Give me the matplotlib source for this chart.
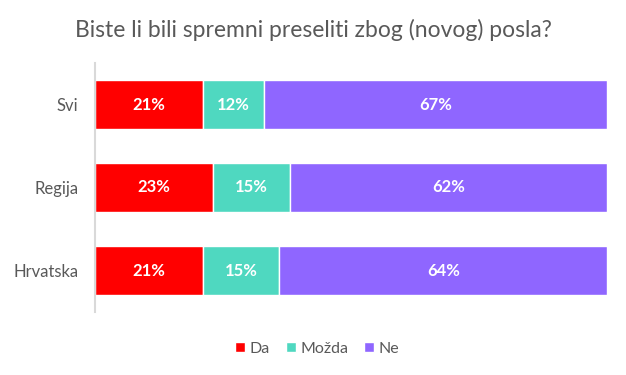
import matplotlib.pyplot as plt
import numpy as np

plt.rcParams['font.family'] = ['Lato', 'DejaVu Sans']

categories = ["Svi", "Regija", "Hrvatska"]
series_names = ["Da", "Možda", "Ne"]
da = [21, 23, 21]
mozda = [12, 15, 15]
ne = [67, 62, 64]
colors = ["#FF0000", "#4FD8C0", "#8F66FF"]

fig = plt.figure(figsize=(6.26, 3.75), dpi=100)
ax = fig.add_axes([0.152, 0.168, 0.818, 0.664])

y = np.arange(len(categories))
left = np.zeros(len(categories))
for name, vals, col in zip(series_names, [da, mozda, ne], colors):
    vals = np.array(vals, dtype=float)
    bars = ax.barh(y, vals, left=left, height=0.6, color=col,
                   edgecolor="white", linewidth=1, label=name)
    for b, v in zip(bars, vals):
        ax.text(b.get_x() + b.get_width() / 2, b.get_y() + b.get_height() / 2,
                f"{int(v)}%", ha="center", va="center", color="white",
                fontsize=12, fontweight="bold")
    left += vals

ax.set_xlim(0, 100)
ax.set_ylim(2.5, -0.5)
ax.set_yticks(y)
ax.set_yticklabels(categories, fontsize=12, color="#595959")
ax.set_xticks([])
ax.tick_params(axis="y", length=0, pad=12)
for s in ["top", "right", "bottom"]:
    ax.spines[s].set_visible(False)
ax.spines["left"].set_color("#D9D9D9")
ax.spines["left"].set_linewidth(1.5)

fig.suptitle("Biste li bili spremni preseliti zbog (novog) posla?",
             x=0.5, y=0.95, fontsize=16.5, color="#595959")

fig.legend(loc="center", bbox_to_anchor=(0.507, 0.07), ncol=3, frameon=False,
           fontsize=11.5, handlelength=0.6, handleheight=0.6, handletextpad=0.3,
           columnspacing=1.0, labelcolor="#595959")

fig.savefig("out.png", dpi=100)
